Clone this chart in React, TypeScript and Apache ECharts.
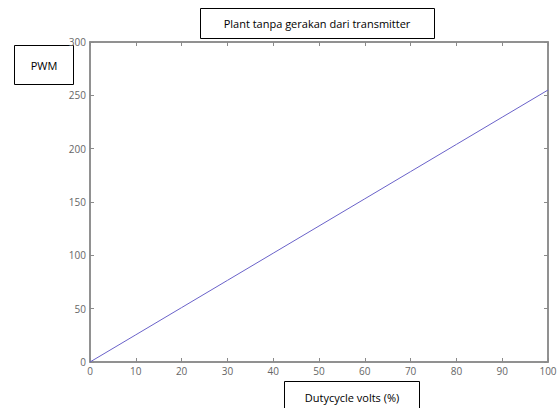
import React, { useEffect, useRef } from "react";
import * as echarts from "echarts";

const dutyCycle = [0, 10, 20, 30, 40, 50, 60, 70, 80, 90, 100];
const pwmValues = [0, 25.5, 51, 76.5, 102, 127.5, 153, 178.5, 204, 229.5, 255];
const titleText = "Plant tanpa gerakan dari transmitter";
const yLabelText = "PWM";
const xLabelText = "Dutycycle volts (%)";

const axisColor = "#8a8a8a";
const labelColor = "#666";
const fontFamily = "'Open Sans', 'Noto Sans', sans-serif";

export default function App() {
  const ref = useRef<HTMLDivElement>(null);
  useEffect(() => {
    if (!ref.current) return;
    const chart = echarts.init(ref.current, null, { renderer: "svg" });
    const mkAxis = (position: string, max: number, interval: number, showLabel: boolean) => ({
      type: "value",
      position,
      min: 0,
      max,
      interval,
      axisLine: { show: true, onZero: false, lineStyle: { color: axisColor, width: 1.5 } },
      axisTick: { show: true, inside: true, length: 4, lineStyle: { color: axisColor, width: 1 } },
      splitLine: { show: false },
      axisLabel: showLabel
        ? { show: true, color: labelColor, fontSize: 10, fontFamily, margin: 4 }
        : { show: false },
    });
    chart.setOption({
      animation: false,
      backgroundColor: "#fff",
      grid: {
        left: 90,
        right: 12,
        top: 42,
        bottom: 46,
        show: true,
        borderColor: axisColor,
        borderWidth: 1.5,
      },
      xAxis: [mkAxis("bottom", 100, 10, true), mkAxis("top", 100, 10, false)],
      yAxis: [mkAxis("left", 300, 50, true), mkAxis("right", 300, 50, false)],
      series: [
        {
          type: "line",
          data: dutyCycle.map((d, i) => [d, pwmValues[i]]),
          showSymbol: false,
          lineStyle: { color: "#6a62c9", width: 1 },
          xAxisIndex: 0,
          yAxisIndex: 0,
        },
        {
          type: "line",
          data: [],
          showSymbol: false,
          xAxisIndex: 1,
          yAxisIndex: 1,
        },
      ],
      graphic: [
        {
          type: "rect",
          shape: { x: 200.5, y: 8.5, width: 234, height: 30 },
          style: { fill: "#fff", stroke: "#000", lineWidth: 1 },
        },
        {
          type: "text",
          x: 317,
          y: 23,
          style: {
            text: titleText,
            fill: "#000",
            font: `11px ${fontFamily}`,
            textAlign: "center",
            textVerticalAlign: "middle",
          },
        },
        {
          type: "rect",
          shape: { x: 14.5, y: 45.5, width: 59, height: 39 },
          style: { fill: "#fff", stroke: "#000", lineWidth: 1 },
        },
        {
          type: "text",
          x: 44,
          y: 65,
          style: {
            text: yLabelText,
            fill: "#000",
            font: `11px ${fontFamily}`,
            textAlign: "center",
            textVerticalAlign: "middle",
          },
        },
        {
          type: "rect",
          shape: { x: 284.5, y: 381.5, width: 135, height: 34 },
          style: { fill: "#fff", stroke: "#000", lineWidth: 1 },
        },
        {
          type: "text",
          x: 352,
          y: 397,
          style: {
            text: xLabelText,
            fill: "#000",
            font: `11px ${fontFamily}`,
            textAlign: "center",
            textVerticalAlign: "middle",
          },
        },
      ],
    });
    return () => chart.dispose();
  }, []);
  return <div ref={ref} style={{ width: 560, height: 408, position: "absolute", left: 0, top: 0 }} />;
}
